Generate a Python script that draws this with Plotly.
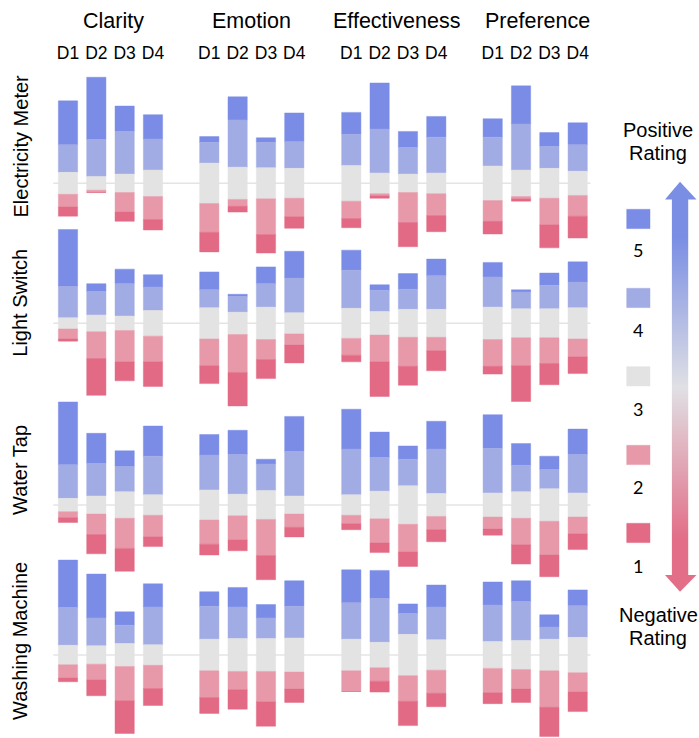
import plotly.graph_objects as go

# ---------------- data (percent of ratings, order: 5, 4, 3, 2, 1) ----------------
DEVICES = ["Electricity Meter", "Light Switch", "Water Tap", "Washing Machine"]
CRITERIA = ["Clarity", "Emotion", "Effectiveness", "Preference"]
DESIGNS = ["D1", "D2", "D3", "D4"]
RATINGS = [5, 4, 3, 2, 1]

# Electricity Meter
EM_CLARITY = [[38, 24, 19, 11, 8], [54, 32, 12, 2, 0], [22, 37, 16, 17, 8], [21, 27, 23, 20, 9]]
EM_EMOTION = [[5, 18, 35, 25, 17], [20, 41, 28, 6, 5], [4, 22, 27, 31, 16], [25, 23, 26, 16, 10]]
EM_EFFECT = [[19, 27, 31, 15, 8], [40, 38, 18, 2, 2], [14, 23, 16, 26, 21], [18, 31, 18, 19, 14]]
EM_PREF = [[16, 25, 30, 18, 11], [33, 40, 23, 2, 2], [12, 19, 26, 23, 20], [19, 23, 21, 18, 19]]
# Light Switch
LS_CLARITY = [[51, 28, 10, 9, 2], [7, 21, 15, 24, 33], [13, 29, 13, 28, 17], [11, 21, 23, 23, 22]]
LS_EMOTION = [[16, 16, 28, 24, 16], [2, 14, 20, 34, 30], [15, 21, 29, 18, 17], [24, 31, 19, 10, 16]]
LS_EFFECT = [[18, 34, 27, 15, 6], [5, 19, 21, 24, 31], [14, 18, 25, 26, 17], [15, 30, 25, 12, 18]]
LS_PREF = [[13, 27, 29, 24, 7], [2, 15, 26, 25, 32], [11, 21, 26, 23, 19], [18, 23, 28, 16, 15]]
# Water Tap
WT_CLARITY = [[52, 28, 11, 5, 4], [25, 27, 15, 17, 16], [13, 21, 22, 25, 19], [25, 32, 17, 18, 8]]
WT_EMOTION = [[17, 29, 25, 20, 9], [20, 33, 18, 20, 9], [4, 22, 24, 30, 20], [29, 37, 15, 11, 8]]
WT_EFFECT = [[33, 38, 17, 7, 5], [21, 28, 23, 20, 8], [11, 22, 32, 23, 12], [23, 37, 19, 11, 10]]
WT_PREF = [[28, 37, 20, 10, 5], [18, 22, 22, 22, 16], [11, 16, 27, 28, 18], [21, 32, 20, 14, 13]]
# Washing Machine
WM_CLARITY = [[39, 31, 16, 11, 3], [36, 23, 15, 13, 13], [11, 15, 19, 28, 27], [19, 31, 17, 19, 14]]
WM_EMOTION = [[12, 27, 26, 22, 13], [16, 26, 27, 15, 16], [11, 17, 27, 25, 20], [21, 26, 28, 14, 11]]
WM_EFFECT = [[27, 30, 26, 17, 0], [23, 36, 21, 11, 9], [8, 17, 34, 21, 20], [18, 27, 25, 19, 11]]
WM_PREF = [[19, 30, 22, 20, 9], [17, 32, 24, 16, 11], [10, 10, 26, 30, 24], [13, 26, 29, 16, 16]]

TABLE = [
    [EM_CLARITY, EM_EMOTION, EM_EFFECT, EM_PREF],
    [LS_CLARITY, LS_EMOTION, LS_EFFECT, LS_PREF],
    [WT_CLARITY, WT_EMOTION, WT_EFFECT, WT_PREF],
    [WM_CLARITY, WM_EMOTION, WM_EFFECT, WM_PREF],
]

# ---------------- style / layout ----------------
W, H = 699, 738
COLORS = {5: "#7A8CE6", 4: "#A1ABE4", 3: "#E3E3E3", 2: "#E799AA", 1: "#E26A85"}
EDGE = {5: "rgba(122,140,230,0.45)", 4: "rgba(161,171,228,0.45)", 3: "rgba(227,227,227,0.45)",
        2: "rgba(231,153,170,0.45)", 1: "rgba(226,106,133,0.45)"}
FONT = "Liberation Sans, Arial, Helvetica, sans-serif"

COL_D1_CENTER = [68.0, 209.3, 351.3, 492.7]   # px
STEP = 28.33                                  # px per design slot
ROW_BASE = [183.3, 323.3, 505.0, 655.0]       # px from top
ROW_SCALE = [1.153, 1.117, 1.205, 1.217]      # px per percent


def px_x(p):
    return p / W


def px_y(p):
    return 1 - p / H


def ax(prefix, i):
    return prefix if i == 1 else f"{prefix}{i}"


fig = go.Figure()

for r in range(4):
    for c in range(4):
        rows = TABLE[r][c]
        seg = {k: [row[RATINGS.index(k)] for row in rows] for k in RATINGS}
        base = {
            3: [-v / 2 for v in seg[3]],
            4: [v / 2 for v in seg[3]],
        }
        base[5] = [b + v for b, v in zip(base[4], seg[4])]
        base[2] = [b - v for b, v in zip(base[3], seg[2])]
        base[1] = [b - v for b, v in zip(base[2], seg[1])]
        for k in RATINGS:
            fig.add_trace(go.Bar(
                x=DESIGNS, y=seg[k], base=base[k],
                xaxis=ax("x", c + 1), yaxis=ax("y", r + 1),
                width=0.68,
                marker=dict(color=COLORS[k], line=dict(color=EDGE[k], width=1)),
                name=f"Rating {k}", showlegend=False,
                hovertemplate=f"{DEVICES[r]} / {CRITERIA[c]}<br>%{{x}} rating {k}: %{{y}}%<extra></extra>",
            ))

layout = dict(
    width=W, height=H, autosize=False,
    margin=dict(l=0, r=0, t=0, b=0),
    paper_bgcolor="white", plot_bgcolor="rgba(0,0,0,0)",
    barmode="overlay", showlegend=False,
    font=dict(family=FONT, color="black"),
)

for c in range(4):
    x0 = COL_D1_CENTER[c] - 0.5 * STEP
    x1 = COL_D1_CENTER[c] + 3.5 * STEP
    layout[ax("xaxis", c + 1)] = dict(
        domain=[px_x(x0), px_x(x1)], range=[-0.5, 3.5], type="category",
        categoryorder="array", categoryarray=DESIGNS,
        showgrid=False, zeroline=False, showline=False, ticks="",
        side="top", anchor="free", position=px_y(62),
        tickfont=dict(size=17.5, family=FONT, color="black"),
        fixedrange=True,
    )

for r in range(4):
    ymax = ROW_BASE[r] / ROW_SCALE[r]
    ymin = ymax - H / ROW_SCALE[r]
    layout[ax("yaxis", r + 1)] = dict(
        domain=[0, 1], range=[ymin, ymax], visible=False, fixedrange=True,
        anchor="free", position=0,
    )

# gradient arrow shaft
ARROW_L, ARROW_R = 671.7, 688.3
SHAFT_TOP, SHAFT_BOT = 199.0, 575.5
layout["xaxis5"] = dict(domain=[px_x(ARROW_L), px_x(ARROW_R)], range=[-0.5, 1.5],
                        visible=False, anchor="y5", fixedrange=True)
layout["yaxis5"] = dict(domain=[px_y(SHAFT_BOT), px_y(SHAFT_TOP)], range=[0.5, 5.5],
                        visible=False, anchor="x5", fixedrange=True)

ARROW_TOP_COL = "rgb(122,142,228)"
ARROW_MID_COL = "rgb(224,224,228)"
ARROW_BOT_COL = "rgb(226,110,136)"
fig.add_trace(go.Heatmap(
    z=[[k, k] for k in sorted(RATINGS)], x=[0, 1], y=sorted(RATINGS),
    zmin=1, zmax=5, zsmooth="best", showscale=False, hoverinfo="skip",
    colorscale=[[0, ARROW_BOT_COL], [0.5, ARROW_MID_COL], [1, ARROW_TOP_COL]],
    xaxis="x5", yaxis="y5",
))

shapes = []
for r in range(4):
    shapes.append(dict(type="line", xref="paper", yref=ax("y", r + 1),
                       x0=px_x(53.3), x1=px_x(590.5), y0=0, y1=0,
                       line=dict(color="#E4E4E4", width=1.5), layer="below"))

# arrow heads
mid = (ARROW_L + ARROW_R) / 2
shapes.append(dict(type="path", xref="paper", yref="paper",
                   path=f"M {px_x(665)},{px_y(199.5)} L {px_x(mid)},{px_y(181.7)} L {px_x(696.5)},{px_y(199.5)} Z",
                   fillcolor=ARROW_TOP_COL, line=dict(width=0)))
shapes.append(dict(type="path", xref="paper", yref="paper",
                   path=f"M {px_x(665)},{px_y(575)} L {px_x(mid)},{px_y(591.7)} L {px_x(696.5)},{px_y(575)} Z",
                   fillcolor=ARROW_BOT_COL, line=dict(width=0)))

# legend swatches
SW_TOP = {5: 209.3, 4: 288.3, 3: 366.7, 2: 445.3, 1: 523.3}
LBL_Y = {5: 250.5, 4: 330.0, 3: 408.5, 2: 487.0, 1: 565.5}
for k in RATINGS:
    shapes.append(dict(type="rect", xref="paper", yref="paper",
                       x0=px_x(626.7), x1=px_x(650.0),
                       y0=px_y(SW_TOP[k] + 19.3), y1=px_y(SW_TOP[k]),
                       fillcolor=COLORS[k], line=dict(color=EDGE[k], width=1)))
layout["shapes"] = shapes

ann = []
TITLE_X = [113.3, 251.5, 396.3, 537.0]
for c in range(4):
    ann.append(dict(text=CRITERIA[c], x=px_x(TITLE_X[c]), y=px_y(21), xref="paper", yref="paper",
                    xanchor="center", yanchor="middle", showarrow=False,
                    font=dict(size=21.5, family=FONT, color="black")))
ROW_LABEL_Y = [146.5, 302.7, 470.0, 641.0]
for r in range(4):
    ann.append(dict(text=DEVICES[r], x=px_x(20), y=px_y(ROW_LABEL_Y[r]), xref="paper", yref="paper",
                    xanchor="center", yanchor="middle", textangle=-90, showarrow=False,
                    font=dict(size=20, family=FONT, color="black")))
for k in RATINGS:
    ann.append(dict(text=str(k), x=px_x(638.3), y=px_y(LBL_Y[k]), xref="paper", yref="paper",
                    xanchor="center", yanchor="middle", showarrow=False,
                    font=dict(size=18, family="Lato, Open Sans, sans-serif", color="black")))
for txt, yy in [("Positive", 130.0), ("Rating", 153.3), ("Negative", 615.0), ("Rating", 638.3)]:
    ann.append(dict(text=txt, x=px_x(658.0), y=px_y(yy), xref="paper", yref="paper",
                    xanchor="center", yanchor="middle", showarrow=False,
                    font=dict(size=20, family=FONT, color="black")))
layout["annotations"] = ann

fig.update_layout(**layout)
# remove the browser's default 8px page margin so the figure fills the window exactly
fig.write_html(
    "out.html",
    config={"displayModeBar": False},
    post_script="document.body.style.margin='0';document.body.style.overflow='hidden';",
)
